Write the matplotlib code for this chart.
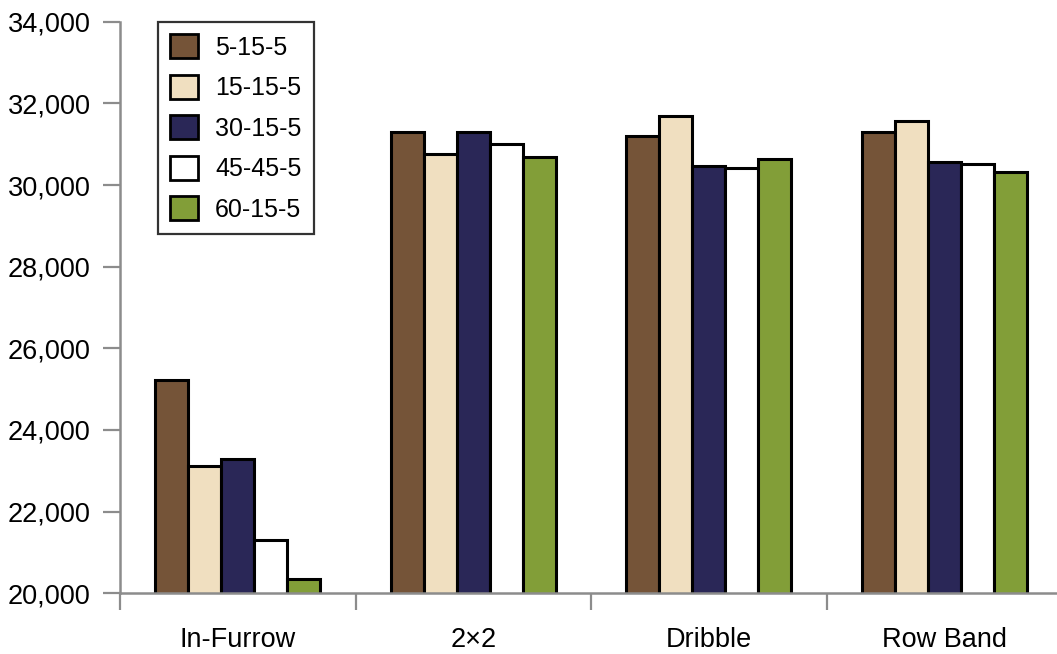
import matplotlib.pyplot as plt
import numpy as np
from matplotlib.ticker import FuncFormatter

plt.rcParams["font.family"] = ["Liberation Sans", "DejaVu Sans"]

placements = ["In-Furrow", "2\u00d72", "Dribble", "Row Band"]
blends = ["5-15-5", "15-15-5", "30-15-5", "45-45-5", "60-15-5"]
colors = ["#755438", "#F0DFC0", "#2A2757", "#FFFFFF", "#829E38"]

# plants per acre, one list per blend (order follows placements)
stand_5_15_5 = [25230, 31290, 31190, 31290]
stand_15_15_5 = [23130, 30760, 31680, 31580]
stand_30_15_5 = [23290, 31290, 30470, 30560]
stand_45_45_5 = [21310, 31010, 30420, 30510]
stand_60_15_5 = [20340, 30690, 30640, 30320]
series = [stand_5_15_5, stand_15_15_5, stand_30_15_5, stand_45_45_5, stand_60_15_5]

fig = plt.figure(figsize=(10.57, 6.54), dpi=100)
ax = fig.add_axes([120 / 1057, 60.7 / 654, 942 / 1057, 571.6 / 654])

x = np.arange(len(placements))
width = 0.14
for i, (vals, color, name) in enumerate(zip(series, colors, blends)):
    ax.bar(x + (i - 2) * width, vals, width, color=color, edgecolor="black",
           linewidth=2.2, label=name, zorder=3)

ax.set_ylim(20000, 34000)
ax.set_xlim(-0.5, len(placements) - 0.5)
ax.set_yticks(np.arange(20000, 34001, 2000))
ax.yaxis.set_major_formatter(FuncFormatter(lambda v, _: f"{v:,.0f}"))

ax.set_xticks(np.arange(len(placements) + 1) - 0.5)
ax.set_xticklabels([])
ax.set_xticks(x, minor=True)
ax.set_xticklabels(placements, minor=True, fontsize=19.5)
ax.tick_params(axis="x", which="minor", length=0, pad=24)
ax.tick_params(axis="x", which="major", length=12, width=1.6, color="#8c8c8c")
ax.tick_params(axis="y", length=12, width=1.6, color="#8c8c8c", labelsize=19.5, pad=9)

for side in ["top", "right"]:
    ax.spines[side].set_visible(False)
for side in ["left", "bottom"]:
    ax.spines[side].set_color("#8c8c8c")
    ax.spines[side].set_linewidth(1.8)
    ax.spines[side].set_zorder(4)

leg = ax.legend(loc="upper left", bbox_to_anchor=(0.04, 1.0), borderaxespad=0,
                fontsize=18, frameon=True, fancybox=False, edgecolor="black",
                handlelength=1.1, handleheight=1.1, labelspacing=0.6,
                handletextpad=0.7, borderpad=0.5)
leg.get_frame().set_linewidth(1.6)
for patch in leg.get_patches():
    patch.set_linewidth(2.0)

fig.savefig("out.png", dpi=100)
